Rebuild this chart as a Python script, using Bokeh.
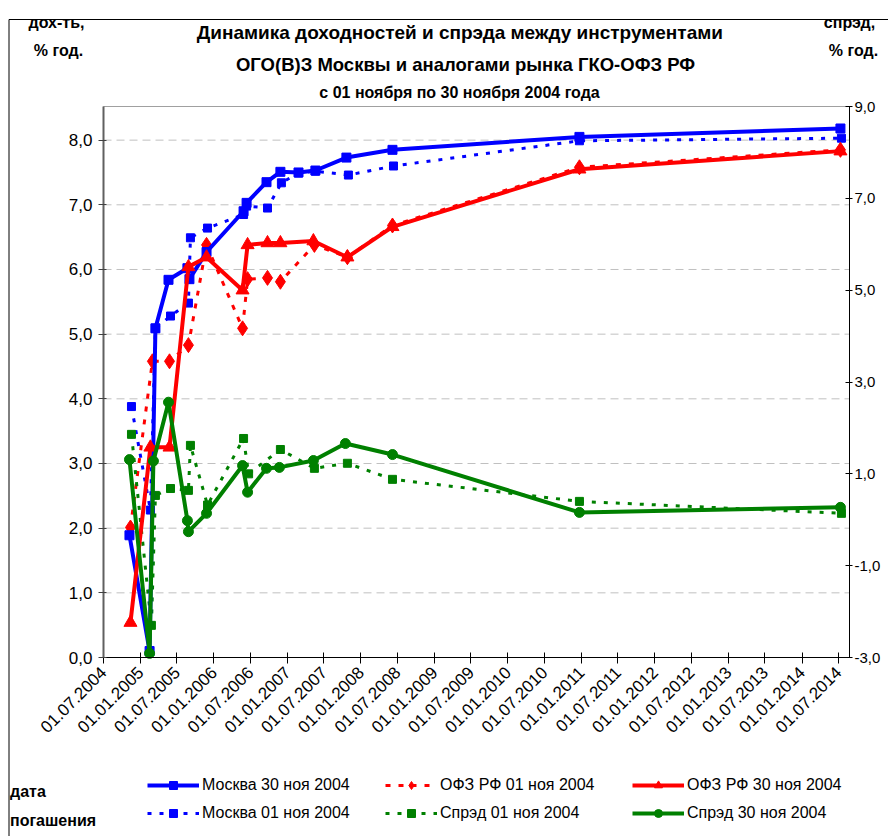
import pandas as pd
from math import pi
from bokeh.plotting import figure
from bokeh.models import (Range1d, LinearAxis, FixedTicker, DatetimeTickFormatter,
                          Legend, LegendItem, Label, BoxAnnotation)
from bokeh.core.properties import value
from bokeh.embed import file_html
from bokeh.resources import INLINE

# ---------------- data ----------------
x_tick_dates = ["2004-07-01", "2005-01-01", "2005-07-01", "2006-01-01", "2006-07-01",
                "2007-01-01", "2007-07-01", "2008-01-01", "2008-07-01", "2009-01-01",
                "2009-07-01", "2010-01-01", "2010-07-01", "2011-01-01", "2011-07-01",
                "2012-01-01", "2012-07-01", "2013-01-01", "2013-07-01", "2014-01-01",
                "2014-07-01"]
yield_ticks = [0, 1, 2, 3, 4, 5, 6, 7, 8]
yield_labels = ["0,0", "1,0", "2,0", "3,0", "4,0", "5,0", "6,0", "7,0", "8,0"]
spread_ticks = [-3, -1, 1, 3, 5, 7, 9]
spread_labels = ["-3,0", "-1,0", "1,0", "3,0", "5,0", "7,0", "9,0"]

# Москва 30 ноя 2004
mos30_dates = ["2004-11-07", "2005-02-15", "2005-03-16", "2005-05-20", "2005-08-22",
               "2005-09-01", "2005-11-25", "2006-05-28", "2006-06-12", "2006-09-19",
               "2006-11-27", "2007-02-25", "2007-05-20", "2007-10-21", "2008-06-06",
               "2010-12-22", "2014-07-11"]
mos30 = [1.89, 0.10, 5.09, 5.84, 6.02, 5.85, 6.27, 6.90, 7.03, 7.35,
         7.51, 7.50, 7.53, 7.73, 7.85, 8.05, 8.18]

# Москва 01 ноя 2004
mos01_dates = ["2004-11-17", "2005-02-19", "2005-03-16", "2005-05-30", "2005-08-27",
               "2005-09-06", "2005-11-30", "2006-05-28", "2006-06-12", "2006-09-24",
               "2006-12-02", "2007-02-25", "2007-05-20", "2007-10-31", "2008-06-11",
               "2010-12-22", "2014-07-16"]
mos01 = [3.88, 2.28, 5.09, 5.28, 5.48, 6.49, 6.64, 6.85, 6.98, 6.95,
         7.34, 7.49, 7.52, 7.46, 7.60, 7.99, 8.03]

# ОФЗ РФ 30 ноя 2004
ofz30_dates = ["2004-11-12", "2005-02-19", "2005-05-25", "2005-08-27", "2005-11-25",
               "2006-05-23", "2006-06-17", "2006-09-24", "2006-11-27", "2007-05-10",
               "2007-10-26", "2008-06-06", "2010-12-22", "2014-07-11"]
ofz30 = [0.54, 3.25, 3.25, 6.04, 6.19, 5.68, 6.38, 6.41, 6.41, 6.44,
         6.19, 6.66, 7.55, 7.83]

# ОФЗ РФ 01 ноя 2004
ofz01_dates = ["2004-11-12", "2005-03-01", "2005-05-25", "2005-08-27", "2005-11-25",
               "2006-05-23", "2006-06-17", "2006-09-24", "2006-11-27", "2007-05-15",
               "2007-10-26", "2008-06-06", "2010-12-22", "2014-07-11"]
ofz01 = [2.01, 4.58, 4.58, 4.83, 6.38, 5.09, 5.85, 5.87, 5.81, 6.38,
         6.19, 6.68, 7.58, 7.85]

# Спрэд 30 ноя 2004
spr30_dates = ["2004-11-07", "2005-02-15", "2005-03-06", "2005-05-20", "2005-08-22",
               "2005-08-27", "2005-11-25", "2006-05-23", "2006-06-17", "2006-09-19",
               "2006-11-22", "2007-05-10", "2007-10-16", "2008-06-06", "2010-12-22",
               "2014-07-11"]
spr30 = [1.31, -2.91, 1.28, 2.56, -0.02, -0.26, 0.14, 1.18, 0.60, 1.12,
         1.14, 1.29, 1.66, 1.42, 0.16, 0.27]

# Спрэд 01 ноя 2004
spr01_dates = ["2004-11-17", "2005-02-24", "2005-03-16", "2005-05-30", "2005-08-27",
               "2005-09-06", "2005-11-30", "2006-05-28", "2006-06-22", "2006-11-27",
               "2007-05-15", "2007-10-26", "2008-06-06", "2010-12-22", "2014-07-16"]
spr01 = [1.86, -2.30, 0.53, 0.68, 0.64, 1.62, 0.32, 1.77, 1.00, 1.53,
         1.12, 1.23, 0.88, 0.40, 0.14]

x_start, x_end = "2004-07-01", "2014-08-25"
yield_min, yield_max = 0.0, 8.52
spread_min, spread_max = -3.0, 9.0

FONT = "Liberation Sans"
BLUE, RED, GREEN = "#0000FF", "#FF0000", "#008000"

# ---------------- geometry: the frame covers the whole canvas ----------------
W, H = 888, 836
FL, FR, FT, FB = 103, 849, 106, 657     # plot-area edges on the canvas, px


def ms(d):
    return pd.Timestamp(d).value / 1e6


X0, X1 = ms(x_start), ms(x_end)
mpp = (X1 - X0) / (FR - FL)
xr = Range1d(X0 - FL * mpp, X0 + (W - FL) * mpp)
upp = (yield_max - yield_min) / (FB - FT)
yr = Range1d(yield_min - (H - FB) * upp, yield_max + FT * upp)
upps = (spread_max - spread_min) / (FB - FT)
sr = Range1d(spread_min - (H - FB) * upps, spread_max + FT * upps)


def cx(px):            # canvas px (from left) -> x value
    return xr.start + px * mpp


def cy(py):            # canvas px (from top) -> yield value
    return yr.end - py * upp


p = figure(width=W, height=H, x_axis_type="datetime",
           output_backend="svg", toolbar_location=None,
           x_range=xr, y_range=yr,
           min_border=0, min_border_left=0, min_border_right=0,
           min_border_top=0, min_border_bottom=0)
p.title.visible = False
p.extra_y_ranges = {"spread": sr}
p.background_fill_color = "white"
p.border_fill_color = "white"
p.outline_line_color = None
p.xgrid.visible = False
p.ygrid.visible = False

# x axis
xax = p.xaxis[0]
xax.fixed_location = 0
xax.bounds = (X0, X1)
xax.ticker = FixedTicker(ticks=[ms(d) for d in x_tick_dates])
fmt = "%d.%m.%Y"
xax.formatter = DatetimeTickFormatter(days=fmt, months=fmt, years=fmt, hours=fmt,
                                      hourmin=fmt, minutes=fmt, minsec=fmt, seconds=fmt,
                                      milliseconds=fmt, microseconds=fmt)
xax.major_label_orientation = pi / 4
xax.major_label_text_font = FONT
xax.major_label_text_font_size = "17px"
xax.major_label_text_color = "black"
xax.axis_line_color = "black"
xax.major_tick_line_color = "black"
xax.major_tick_in = 5
xax.major_tick_out = 6
xax.minor_tick_line_color = None
xax.major_label_standoff = 6

# left axis
yax = p.yaxis[0]
yax.fixed_location = X0
yax.bounds = (yield_min, yield_max)
yax.ticker = FixedTicker(ticks=yield_ticks)
yax.major_label_overrides = dict(zip(yield_ticks, yield_labels))
yax.major_label_text_font = FONT
yax.major_label_text_font_size = "17px"
yax.major_label_text_color = "black"
yax.axis_line_color = "#606060"
yax.axis_line_width = 2
yax.major_tick_line_color = "#404040"
yax.major_tick_in = 3
yax.major_tick_out = 5
yax.minor_tick_line_color = None
yax.major_label_standoff = 6

# right axis
rax = LinearAxis(y_range_name="spread", ticker=FixedTicker(ticks=spread_ticks),
                 fixed_location=X1, bounds=(spread_min, spread_max))
rax.major_label_overrides = dict(zip(spread_ticks, spread_labels))
rax.major_label_text_font = FONT
rax.major_label_text_font_size = "15px"
rax.major_label_text_color = "black"
rax.axis_line_color = "black"
rax.major_tick_line_color = "black"
rax.major_tick_in = 4
rax.major_tick_out = 3
rax.minor_tick_line_color = None
rax.major_label_standoff = 2
p.add_layout(rax, "right")

# plot-area outline and dashed horizontal grid lines
p.add_layout(BoxAnnotation(left=X0, right=X1, bottom=yield_min, top=yield_max,
                           fill_alpha=0, line_color="#a0a0a0", line_alpha=1,
                           line_width=1, level="underlay"))
grid_y = yield_ticks[1:]
p.segment(x0=[X0] * len(grid_y), x1=[X1] * len(grid_y), y0=grid_y, y1=grid_y,
          line_color="#c0c0c0", line_dash="8 5", line_width=1)

# outer frame of the chart block (left and top edges visible)
p.add_layout(BoxAnnotation(left=cx(8.5), right=cx(W + 50), top=cy(19), bottom=cy(H + 50),
                           fill_alpha=0, line_color="black", line_alpha=1, line_width=1))


def dt(lst):
    return pd.to_datetime(lst)


# series
r_mos01_l = p.line(dt(mos01_dates), mos01, color=BLUE, line_width=3, line_dash="4 8")
r_mos01_m = p.scatter(dt(mos01_dates), mos01, marker="square", size=8, color=BLUE)
r_ofz01_l = p.line(dt(ofz01_dates), ofz01, color=RED, line_width=3, line_dash="5 8")
r_ofz01_m = p.scatter(dt(ofz01_dates), ofz01, marker="diamond", size=15, color=RED)
r_spr01_l = p.line(dt(spr01_dates), spr01, color=GREEN, line_width=3, line_dash="4 8",
                   y_range_name="spread")
r_spr01_m = p.scatter(dt(spr01_dates), spr01, marker="square", size=8, color=GREEN,
                      y_range_name="spread")

r_mos30_l = p.line(dt(mos30_dates), mos30, color=BLUE, line_width=4)
r_mos30_m = p.scatter(dt(mos30_dates), mos30, marker="square", size=9, color=BLUE)
r_ofz30_l = p.line(dt(ofz30_dates), ofz30, color=RED, line_width=4)
r_ofz30_m = p.scatter(dt(ofz30_dates), ofz30, marker="triangle", size=13, color=RED)
r_spr30_l = p.line(dt(spr30_dates), spr30, color=GREEN, line_width=4, y_range_name="spread")
r_spr30_m = p.scatter(dt(spr30_dates), spr30, marker="circle", size=10, color=GREEN,
                      y_range_name="spread")

r_blank = p.scatter(x=[], y=[], marker="square", size=1, alpha=0)


# legend: columns placed at canvas positions (x from left, y from bottom)
def legend_col(items, x, y, bold=False, gw=52, gh=20, sp=8):
    lg = Legend(items=items, location=(x, y), orientation="vertical",
                glyph_width=gw, glyph_height=gh, label_height=gh, spacing=sp,
                padding=0, margin=0, label_standoff=3 if gw else 0,
                border_line_color=None, background_fill_alpha=0,
                label_text_font=FONT, label_text_font_size="16px",
                label_text_font_style="bold" if bold else "normal",
                label_text_color="black")
    p.add_layout(lg, "center")


legend_col([LegendItem(label=value("дата"), renderers=[r_blank]),
            LegendItem(label=value("погашения"), renderers=[r_blank])],
           10, 6, bold=True, gw=0, gh=16, sp=11)
legend_col([LegendItem(label=value("Москва 30 ноя 2004"), renderers=[r_mos30_l, r_mos30_m]),
            LegendItem(label=value("Москва 01 ноя 2004"), renderers=[r_mos01_l, r_mos01_m])],
           147, 13)
legend_col([LegendItem(label=value("ОФЗ РФ 01 ноя 2004"), renderers=[r_ofz01_l, r_ofz01_m]),
            LegendItem(label=value("Спрэд 01 ноя 2004"), renderers=[r_spr01_l, r_spr01_m])],
           385, 13)
legend_col([LegendItem(label=value("ОФЗ РФ 30 ноя 2004"), renderers=[r_ofz30_l, r_ofz30_m]),
            LegendItem(label=value("Спрэд 30 ноя 2004"), renderers=[r_spr30_l, r_spr30_m])],
           632, 13)


# captions at canvas px positions
def caption(text, ax, ay, size, align="center"):
    p.add_layout(Label(x=cx(ax), y=cy(ay), text=text,
                       text_font=FONT, text_font_size=size, text_font_style="bold",
                       text_align=align, text_baseline="middle", text_color="black"))


caption("Динамика  доходностей и спрэда между инструментами", 462, 32, "19px")
caption("ОГО(В)З Москвы и аналогами рынка ГКО-ОФЗ РФ", 465, 64, "18.5px")
caption("с 01 ноября по 30 ноября 2004 года", 459, 92, "16px")
caption("дох-ть,", 56, 22, "16px")
caption("% год.", 58, 50, "16px")
caption("спрэд,", 849, 22, "16px")
caption("% год.", 853, 50, "16px")

open("out.html", "w").write(file_html(p, INLINE))
